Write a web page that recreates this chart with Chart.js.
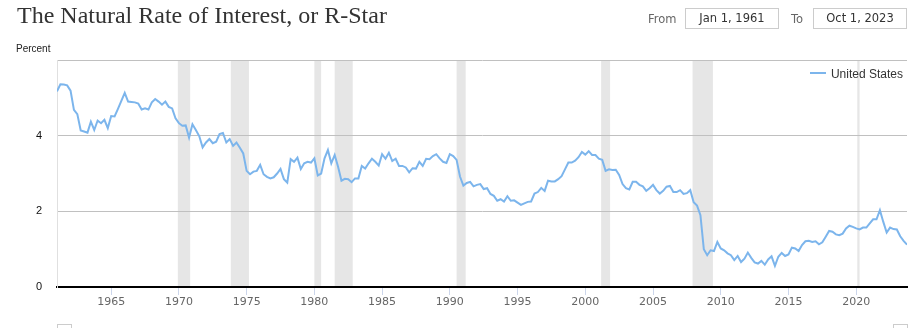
<!DOCTYPE html>
<html>
<head>
<meta charset="utf-8">
<title>The Natural Rate of Interest, or R-Star</title>
<script src="https://cdn.jsdelivr.net/npm/chart.js@4.4.1/dist/chart.umd.min.js"></script>
<style>
  html, body { margin: 0; padding: 0; background: #fff; }
  #wrap { position: relative; width: 922px; height: 328px; overflow: hidden; }
  #chart { position: absolute; left: 0; top: 0; }
  .title { position: absolute; left: 17px; top: 2px; font-family: "Liberation Serif", "Times New Roman", serif;
           font-size: 24px; color: #333; white-space: nowrap; }
  .unit { position: absolute; left: 16px; top: 43px; font-family: "Liberation Sans", Arial, sans-serif;
          font-size: 10px; color: #222; }
  .range { position: absolute; top: 8px; font-family: "DejaVu Sans", Verdana, sans-serif; font-size: 11.5px; }
  .range .lbl { position: absolute; top: 4px; color: #666; }
  .range .box { position: absolute; top: 0; width: 92px; height: 19px; border: 1px solid #ccc;
                line-height: 19px; text-align: center; color: #333; }
  #legend { position: absolute; right: 19px; top: 67px; font-family: "Liberation Sans", Arial, sans-serif;
            font-size: 12px; color: #333; white-space: nowrap; }
  #legend i { display: inline-block; width: 16px; height: 2px; margin-right: 5px; vertical-align: 4px; }
  .nav { position: absolute; top: 324px; height: 10px; border: 1px solid #ccc; border-bottom: none; }
</style>
</head>
<body>
<div id="wrap">
  <canvas id="chart" width="922" height="328"></canvas>
  <div class="title">The Natural Rate of Interest, or R-Star</div>
  <div class="unit">Percent</div>
  <div class="range">
    <span class="lbl" style="left:648px">From</span>
    <div class="box" style="left:685px">Jan 1, 1961</div>
    <span class="lbl" style="left:791px">To</span>
    <div class="box" style="left:813px">Oct 1, 2023</div>
  </div>
  <div id="legend"></div>
  <div class="nav" style="left:57px;width:13px"></div>
  <div class="nav" style="left:893px;width:13px"></div>
</div>
<script>
// quarterly r-star estimates, percent, starting 1961 Q1
var firstYear = 1961;
var r1960s = [5.17, 5.36, 5.35, 5.33, 5.19, 4.68, 4.57, 4.14, 4.11, 4.08, 4.37, 4.15,
              4.40, 4.33, 4.42, 4.20, 4.52, 4.51, 4.71, 4.92, 5.13, 4.90, 4.89, 4.88,
              4.85, 4.69, 4.72, 4.69, 4.88, 4.97, 4.90, 4.82, 4.90, 4.76, 4.72, 4.46];
var r1970s = [4.33, 4.26, 4.27, 3.95, 4.30, 4.15, 3.99, 3.69, 3.82, 3.91, 3.80, 3.84,
              4.04, 4.07, 3.82, 3.91, 3.73, 3.82, 3.68, 3.53, 3.07, 2.98, 3.05, 3.07,
              3.23, 2.98, 2.91, 2.87, 2.90, 3.00, 3.12, 2.85, 2.76, 3.38, 3.31, 3.42,
              3.12, 3.27, 3.31, 3.29];
var r1980s = [3.40, 2.95, 3.00, 3.40, 3.62, 3.27, 3.49, 3.18, 2.81, 2.86, 2.85, 2.77,
              2.87, 2.87, 3.20, 3.13, 3.27, 3.39, 3.31, 3.21, 3.51, 3.39, 3.55, 3.33,
              3.39, 3.20, 3.20, 3.16, 3.03, 3.14, 3.13, 3.31, 3.20, 3.39, 3.38, 3.46,
              3.51, 3.40, 3.31, 3.28];
var r1990s = [3.51, 3.46, 3.36, 2.92, 2.68, 2.75, 2.78, 2.66, 2.70, 2.72, 2.59, 2.61,
              2.46, 2.41, 2.28, 2.32, 2.26, 2.40, 2.28, 2.29, 2.23, 2.17, 2.21, 2.25,
              2.26, 2.47, 2.51, 2.62, 2.54, 2.81, 2.79, 2.79, 2.85, 2.93, 3.11, 3.29,
              3.29, 3.34, 3.43, 3.57];
var r2000s = [3.50, 3.59, 3.49, 3.49, 3.39, 3.36, 3.07, 3.11, 3.09, 3.10, 2.96, 2.72,
              2.61, 2.58, 2.78, 2.78, 2.70, 2.66, 2.54, 2.61, 2.70, 2.56, 2.47, 2.54,
              2.65, 2.67, 2.51, 2.51, 2.56, 2.46, 2.48, 2.56, 2.24, 2.15, 1.90, 1.00,
              0.84, 0.97, 0.95, 1.19];
var r2010s = [1.02, 0.97, 0.89, 0.84, 0.71, 0.82, 0.66, 0.75, 0.91, 0.77, 0.65, 0.62,
              0.69, 0.59, 0.73, 0.81, 0.56, 0.80, 0.90, 0.82, 0.86, 1.04, 1.02, 0.95,
              1.11, 1.21, 1.22, 1.19, 1.21, 1.13, 1.18, 1.33, 1.48, 1.46, 1.39, 1.37,
              1.41, 1.55, 1.62, 1.59];
var r2020s = [1.55, 1.52, 1.57, 1.57, 1.68, 1.79, 1.79, 2.03, 1.72, 1.44, 1.57, 1.53,
              1.52, 1.34, 1.22, 1.12];

// NBER recessions as [start, end] in fractional years
var recessions = [[1969.92, 1970.83], [1973.83, 1975.17], [1980.0, 1980.5], [1981.5, 1982.83],
                  [1990.5, 1991.17], [2001.17, 2001.83], [2007.92, 2009.42], [2020.08, 2020.25]];

var yearTicks = [1965, 1970, 1975, 1980, 1985, 1990, 1995, 2000, 2005, 2010, 2015, 2020];
var percentTicks = [0, 2, 4, 6];

var rstar = [].concat(r1960s, r1970s, r1980s, r1990s, r2000s, r2010s, r2020s);
var points = rstar.map(function(v, i) { return { x: firstYear + i / 4, y: v }; });

var recessionBands = {
  id: 'recessionBands',
  beforeDraw: function(chart) {
    var ctx = chart.ctx, area = chart.chartArea, xs = chart.scales.x;
    ctx.save();
    ctx.fillStyle = '#e6e6e6';
    recessions.forEach(function(r) {
      var x0 = xs.getPixelForValue(r[0]), x1 = xs.getPixelForValue(r[1]);
      ctx.fillRect(x0, area.top, x1 - x0, area.bottom - area.top);
    });
    ctx.restore();
  }
};

var chart = new Chart(document.getElementById('chart').getContext('2d'), {
  type: 'line',
  data: {
    datasets: [{
      label: 'United States',
      data: points,
      borderColor: '#7cb5ec',
      backgroundColor: '#7cb5ec',
      borderWidth: 2,
      pointRadius: 0,
      tension: 0,
      fill: false
    }]
  },
  options: {
    responsive: false,
    animation: false,
    layout: { padding: { top: 60, right: 15, left: 0, bottom: 0 } },
    plugins: {
      tooltip: { enabled: false },
      legend: { display: false }
    },
    scales: {
      x: {
        type: 'linear',
        min: firstYear,
        max: 2023.75,
        afterBuildTicks: function(scale) {
          scale.ticks = yearTicks.map(function(v) { return { value: v }; });
        },
        afterFit: function(scale) { scale.height = 41; },
        border: { color: '#000', width: 2 },
        grid: { drawOnChartArea: false, drawTicks: true, tickLength: 8, tickColor: '#ccd6eb' },
        ticks: {
          padding: 1,
          maxRotation: 0,
          color: '#666',
          font: { family: '"DejaVu Sans", Verdana, sans-serif', size: 11 },
          callback: function(v) { return String(v); }
        }
      },
      y: {
        min: 0,
        max: 6,
        afterBuildTicks: function(scale) {
          scale.ticks = percentTicks.map(function(v) { return { value: v }; });
        },
        afterFit: function(scale) { scale.width = 57; },
        border: { color: '#e0e0e0', width: 1 },
        grid: { color: '#c0c0c0', drawTicks: false },
        ticks: {
          padding: 15,
          color: '#111',
          font: { family: '"Liberation Sans", Arial, sans-serif', size: 11 },
          callback: function(v) { return v === 6 ? '' : String(v); }
        }
      }
    }
  },
  plugins: [recessionBands]
});

// legend entry from the dataset itself
var ds = chart.data.datasets[0];
document.getElementById('legend').innerHTML =
  '<i style="background:' + ds.borderColor + '"></i>' + ds.label;
</script>
</body>
</html>
